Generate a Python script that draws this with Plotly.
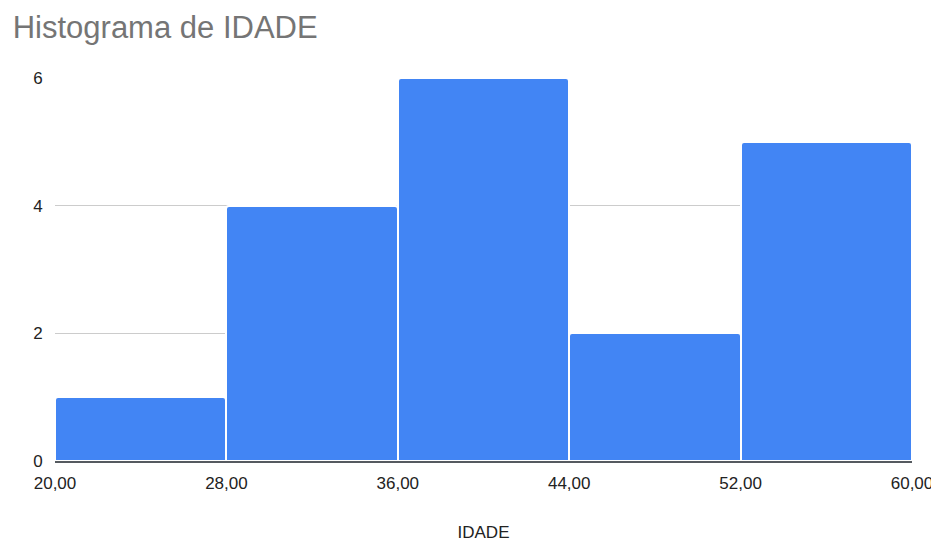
import plotly.graph_objects as go

bin_edges = [20, 28, 36, 44, 52, 60]
counts = [1, 4, 6, 2, 5]
x_tick_labels = ["20,00", "28,00", "36,00", "44,00", "52,00", "60,00"]
y_ticks = [0, 2, 4, 6]

centers = [(bin_edges[i] + bin_edges[i + 1]) / 2 for i in range(len(counts))]
widths = [bin_edges[i + 1] - bin_edges[i] for i in range(len(counts))]

FONT = "Liberation Sans, Arial, sans-serif"

fig = go.Figure(
    go.Bar(
        x=centers,
        y=counts,
        width=widths,
        marker=dict(color="#4285F4", line=dict(color="#FFFFFF", width=2), cornerradius=3),
        hoverinfo="x+y",
    )
)

fig.update_layout(
    width=939,
    height=541,
    margin=dict(l=47, r=35, t=70, b=88, autoexpand=False),
    paper_bgcolor="white",
    plot_bgcolor="white",
    font=dict(family=FONT, color="#222222", size=17),
    title=dict(
        text="Histograma de IDADE",
        x=0.005,
        xanchor="left",
        yref="container",
        y=0.965,
        yanchor="middle",
        font=dict(size=31, color="#757575", family=FONT),
    ),
    showlegend=False,
    bargap=0,
)

fig.update_xaxes(
    automargin=False,
    range=[bin_edges[0], bin_edges[-1]],
    tickvals=bin_edges,
    ticktext=x_tick_labels,
    ticklabeloverflow="allow",
    showgrid=False,
    zeroline=False,
    showline=True,
    linecolor="#555a60",
    linewidth=2,
    ticks="outside",
    ticklen=6,
    tickcolor="rgba(0,0,0,0)",
    tickfont=dict(size=17, color="#222222", family=FONT),
    title=dict(text="IDADE", font=dict(size=17, color="#222222", family=FONT), standoff=34),
)

fig.update_yaxes(
    automargin=False,
    range=[0, 6],
    tickvals=y_ticks,
    showgrid=True,
    gridcolor="#cccccc",
    gridwidth=1,
    zeroline=False,
    ticks="outside",
    ticklen=8,
    tickcolor="rgba(0,0,0,0)",
    tickfont=dict(size=17, color="#222222", family=FONT),
)

fig.write_html("out.html")
